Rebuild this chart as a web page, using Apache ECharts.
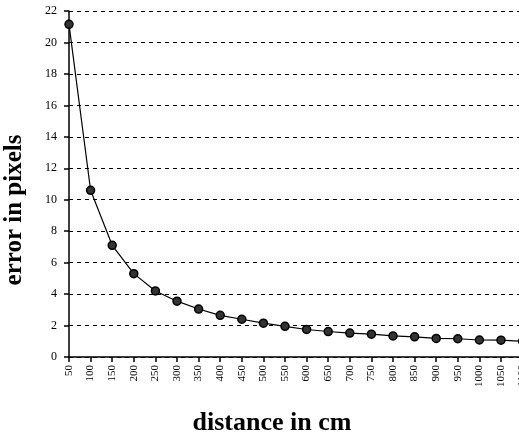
<!DOCTYPE html>
<html>
<head>
<meta charset="utf-8">
<script src="https://cdn.jsdelivr.net/npm/echarts@6/dist/echarts.min.js"></script>
<style>
  html, body { margin: 0; padding: 0; background: #fff; }
  #chart-wrapper { width: 519px; height: 439px; }
</style>
</head>
<body>
<div id="chart-wrapper"></div>
<script>
// distances (cm) along the x axis
const distances = ["50", "100", "150", "200", "250", "300", "350", "400", "450", "500", "550",
  "600", "650", "700", "750", "800", "850", "900", "950", "1000", "1050", "1100"];
// error in pixels
const errors = [21.15, 10.6, 7.1, 5.3, 4.2, 3.55, 3.05, 2.65, 2.4, 2.15, 1.95,
  1.75, 1.62, 1.52, 1.45, 1.34, 1.28, 1.18, 1.16, 1.08, 1.07, 1.0];
const yTicks = { min: 0, max: 22, interval: 2 };

const serif = "Liberation Serif";

const chartDom = document.getElementById("chart-wrapper");
const chart = echarts.init(chartDom);

const option = {
  backgroundColor: "#fff",
  animation: false,
  graphic: [
    {
      type: "text",
      x: 272,
      y: 423,
      style: { text: "distance in cm", font: "bold 26px 'Liberation Serif'", fill: "#000", align: "center", verticalAlign: "middle" },
    },
    {
      type: "text",
      x: 15,
      y: 210,
      rotation: Math.PI / 2,
      style: { text: "error in pixels", font: "bold 25px 'Liberation Serif'", fill: "#000", align: "center", verticalAlign: "middle" },
    },
  ],
  grid: { left: 69, top: 11, width: 453.6, bottom: 82, outerBoundsMode: "none" },
  xAxis: {
    type: "category",
    data: distances,
    boundaryGap: false,
    axisLine: { lineStyle: { color: "#000", width: 1.5 } },
    axisTick: { alignWithLabel: true, length: 5, lineStyle: { color: "#000", width: 1.5 } },
    axisLabel: {
      rotate: 90,
      interval: 0,
      margin: 8,
      fontFamily: serif,
      fontSize: 11,
      color: "#000",
    },
    splitLine: { show: false },
  },
  yAxis: {
    type: "value",
    min: yTicks.min,
    max: yTicks.max,
    interval: yTicks.interval,
    axisLine: { show: true, lineStyle: { color: "#000", width: 1.5 } },
    axisTick: { show: true, length: 5, lineStyle: { color: "#000", width: 1.5 } },
    axisLabel: { margin: 12, fontFamily: serif, fontSize: 12, color: "#000" },
    splitLine: { show: true, lineStyle: { color: "#000", type: [4, 4], width: 1 } },
  },
  series: [
    {
      type: "line",
      data: errors,
      symbol: "circle",
      symbolSize: 8,
      lineStyle: { color: "#000", width: 1.2 },
      itemStyle: { color: "#333", borderColor: "#000", borderWidth: 1.5 },
      z: 3,
    },
  ],
};

option && chart.setOption(option);
</script>
</body>
</html>
